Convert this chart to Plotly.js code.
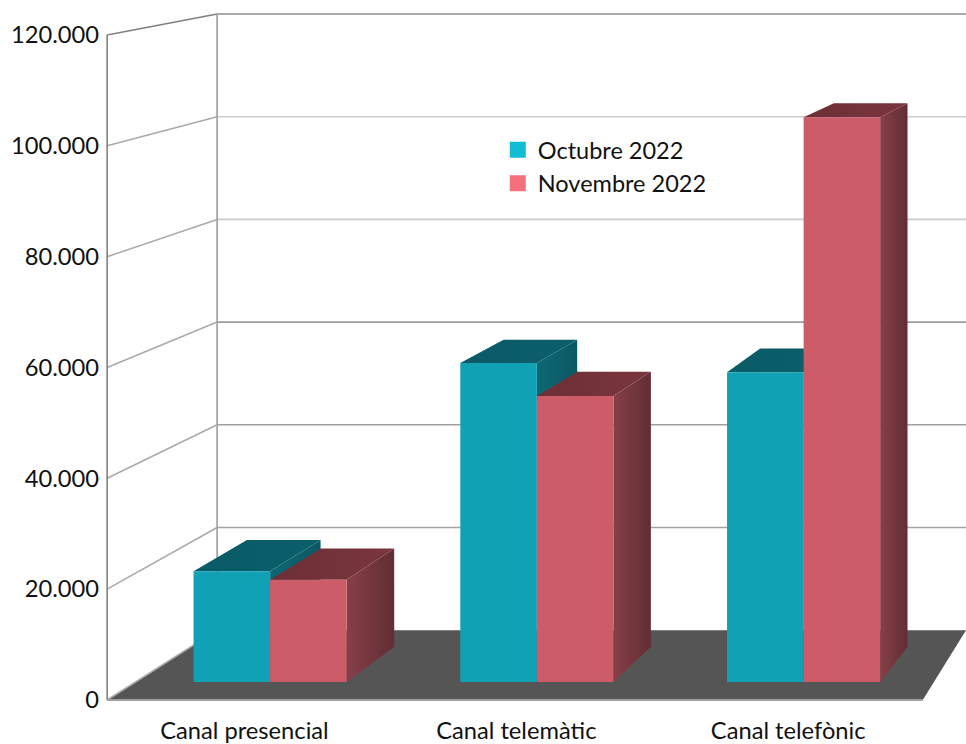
<!DOCTYPE html>
<html>
<head>
<meta charset="utf-8">
<script src="https://cdn.plot.ly/plotly-3.0.1.min.js"></script>
<style>html,body{margin:0;padding:0;background:#fff}#chart{width:966px;height:744px}</style>
</head>
<body>
<div id="chart"></div>
<script>
// Channel totals per month
const categories = ['Canal presencial', 'Canal telemàtic', 'Canal telefònic'];
const octubre = [20400, 58700, 57000];
const novembre = [18800, 52600, 103900];
const seriesNames = ['Octubre 2022', 'Novembre 2022'];
const tickValues = [0, 20000, 40000, 60000, 80000, 100000, 120000];
const tickLabels = ['0', '20.000', '40.000', '60.000', '80.000', '100.000', '120.000'];

// Oblique view: every point recedes toward one vanishing point, in axis units
const VANISH = {x: 5, y: 171430};
const WALL_DEPTH = 0.0735, BAR_NEAR = 0.0189, BAR_FAR = 0.056;
const PLANE_LEFT = -0.505, PLANE_RIGHT = 2.495, X_MAX = 2.654;
const BAR_WIDTH = 0.287;

function project(x, v, t) {
  return [x + t * (VANISH.x - x), v + t * (VANISH.y - v)];
}

const traces = [];
function polygon(points, fill) {
  const t = {
    type: 'scatter', mode: 'lines', fill: 'toself', showlegend: false, hoverinfo: 'skip',
    x: points.map(p => p[0]).concat(points[0][0]),
    y: points.map(p => p[1]).concat(points[0][1]),
    line: {width: 0}
  };
  if (Array.isArray(fill)) {
    t.fillcolor = fill[0];
    t.fillgradient = {type: fill[2] || 'horizontal', colorscale: [[0, fill[0]], [1, fill[1]]]};
  } else {
    t.fillcolor = fill;
  }
  traces.push(t);
}
function line(a, b, color, width) {
  traces.push({
    type: 'scatter', mode: 'lines', showlegend: false, hoverinfo: 'skip',
    x: [a[0], b[0]], y: [a[1], b[1]], line: {color: color, width: width}
  });
}

// Floor
const floorBackRight = project(PLANE_RIGHT - 0.027, 0, WALL_DEPTH);
polygon([
  project(PLANE_LEFT, 0, 0), project(PLANE_LEFT, 0, WALL_DEPTH),
  floorBackRight, project(PLANE_RIGHT, 0, 0)
], '#555555');

// Back wall rules and their returns along the side wall
const wallColors = ['#a8a8a8', '#a4a4a4', '#a0a0a0', '#9c9c9c', '#cccccc', '#cccccc', '#8c8c8c'];
tickValues.forEach((v, i) => {
  const back = project(PLANE_LEFT, v, WALL_DEPTH);
  if (i > 0) line(back, [X_MAX, back[1]], wallColors[i], 1.6);
  line(project(PLANE_LEFT, v, 0), back, i === 6 ? '#808080' : '#aaaaaa', 1.6);
});
line(project(PLANE_LEFT, 0, WALL_DEPTH), project(PLANE_LEFT, 120000, WALL_DEPTH), '#a6a6a6', 1.8);
line(project(PLANE_LEFT, 0, 0), project(PLANE_LEFT, 120000, 0), '#808080', 1.6);
line(project(PLANE_LEFT, 0, 0), project(PLANE_RIGHT, 0, 0), '#a0a0a0', 2);

// One block: top, side, then front face
function block(left, value, skin) {
  const right = left + BAR_WIDTH;
  polygon([project(left, value, BAR_NEAR), project(left, value, BAR_FAR),
           project(right, value, BAR_FAR), project(right, value, BAR_NEAR)], skin.top);
  polygon([project(right, value, BAR_NEAR), project(right, value, BAR_FAR),
           project(right, 0, BAR_FAR), project(right, 0, BAR_NEAR)], skin.side);
  polygon([project(left, 0, BAR_NEAR), project(left, value, BAR_NEAR),
           project(right, value, BAR_NEAR), project(right, 0, BAR_NEAR)], skin.front);
}
const tealSkin = {front: '#10a2b4', top: ['#0a5a67', '#0b5f6b'], side: ['#0d6873', '#0a5865']};
const redSkin = {front: '#cb5c68', top: ['#6d2f37', '#7a353d'], side: ['#873f48', '#622d34']};
categories.forEach((c, i) => {
  block(i - BAR_WIDTH, octubre[i], tealSkin);
  block(i, novembre[i], redSkin);
});

// Legend entries
[['#12bcd4', seriesNames[0]], ['#f5707f', seriesNames[1]]].forEach(e => {
  traces.push({
    type: 'scatter', mode: 'markers', name: e[1], x: [null], y: [null],
    marker: {symbol: 'square', size: 16, color: e[0]}
  });
});

const font = {family: 'Lato, Carlito, sans-serif', size: 23.7, color: '#111111'};
const layout = {
  width: 966, height: 744,
  margin: {l: 104, r: 0, t: 10, b: 40, pad: 0},
  paper_bgcolor: '#ffffff', plot_bgcolor: '#ffffff',
  font: font,
  xaxis: {
    range: [-0.5165, X_MAX], showgrid: false, zeroline: false, showline: false, ticks: '',
    tickmode: 'array', tickvals: categories.map((c, i) => i), ticktext: categories,
    ticklabelstandoff: 10, tickfont: font
  },
  yaxis: {
    range: [-722, 124510], showgrid: false, zeroline: false, showline: false, ticks: '',
    tickmode: 'array', tickvals: tickValues, ticktext: tickLabels,
    ticklabelstandoff: 4, tickfont: font
  },
  showlegend: true,
  legend: {
    x: 0.4661, y: 0.83, xanchor: 'left', yanchor: 'top',
    bgcolor: 'rgba(0,0,0,0)', borderwidth: 0, indentation: -8,
    font: Object.assign({}, font, {size: 23.5})
  }
};
Plotly.newPlot('chart', traces, layout, {displayModeBar: false, staticPlot: true});
</script>
</body>
</html>
